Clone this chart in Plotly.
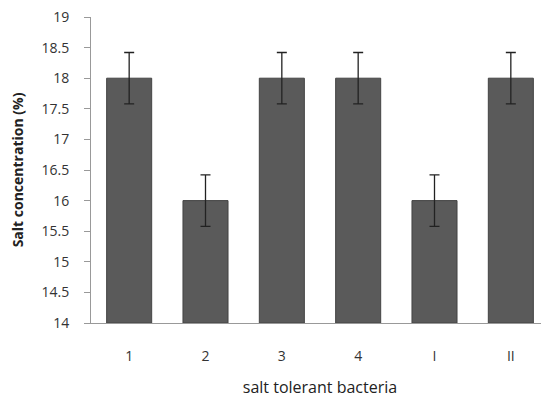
import plotly.graph_objects as go

categories = ["1", "2", "3", "4", "I", "II"]
values = [18, 16, 18, 18, 16, 18]
errors = [0.42, 0.42, 0.42, 0.42, 0.42, 0.42]
y_ticks = [14, 14.5, 15, 15.5, 16, 16.5, 17, 17.5, 18, 18.5, 19]

fig = go.Figure()
fig.add_trace(go.Bar(
    x=categories, y=[v - 14 for v in values], base=14,
    marker=dict(color="#5a5a5a", line=dict(color="#444444", width=1)),
    width=0.59,
    error_y=dict(type="data", array=errors, color="#222222", thickness=1.3, width=5),
))
# page body has an 8px default margin, so the figure is sized to fit 549x398
fig.update_layout(
    width=541, height=390,
    margin=dict(l=83, r=0, t=9, b=75),
    paper_bgcolor="white", plot_bgcolor="white",
    font=dict(family="Open Sans, DejaVu Sans, sans-serif", color="#333333"),
    showlegend=False,
    xaxis=dict(
        automargin=False,
        showline=True, linecolor="#999999", linewidth=1,
        ticks="", tickfont=dict(size=14, color="#333333"), ticklabelstandoff=20,
        title=dict(text="salt tolerant bacteria", font=dict(size=16, color="#222222"), standoff=21),
    ),
    yaxis=dict(
        automargin=False,
        range=[14, 19], tickvals=y_ticks, ticktext=[f"{t:g}" for t in y_ticks],
        showline=True, linecolor="#999999", linewidth=1,
        ticks="outside", ticklen=6, tickcolor="#999999", ticklabelstandoff=12,
        ticklabeloverflow="allow",
        showgrid=False, zeroline=False,
        tickfont=dict(size=14, color="#333333"),
        title=dict(text="<b>Salt concentration (%)</b>", font=dict(size=14, color="#222222"), standoff=19),
    ),
)
fig.write_html("out.html")
